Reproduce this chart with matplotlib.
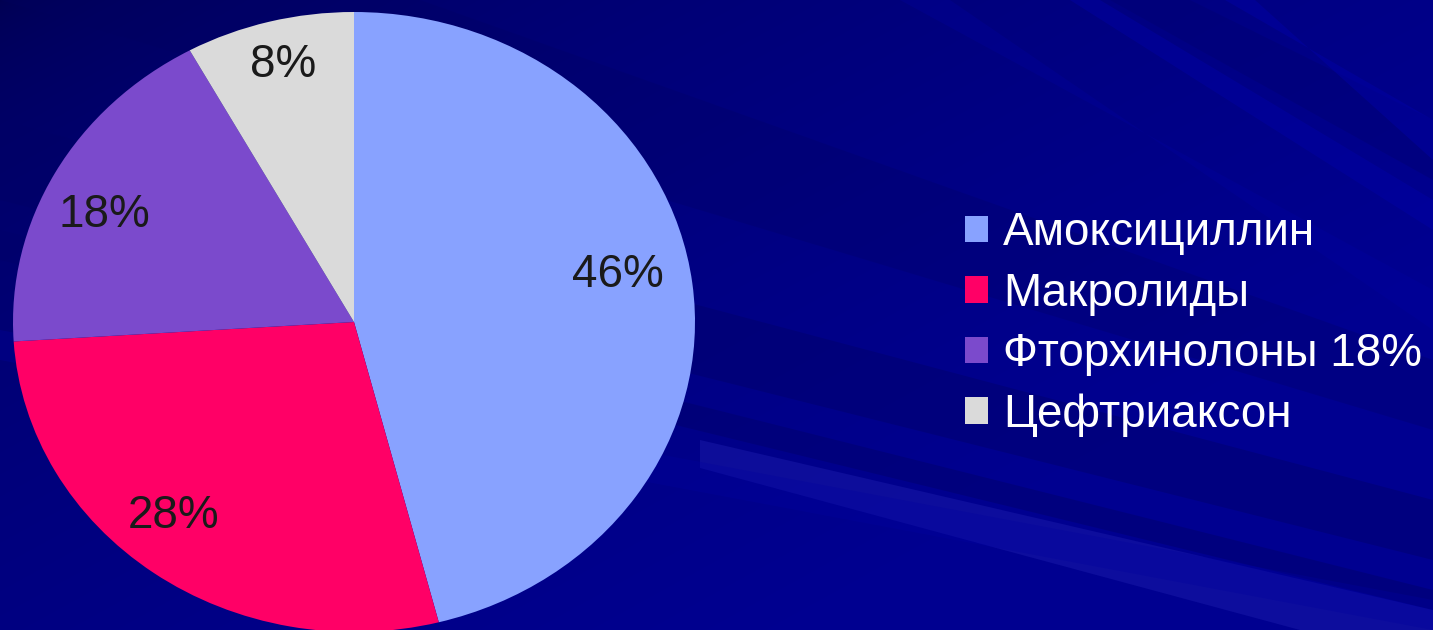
import matplotlib.pyplot as plt
import numpy as np
from matplotlib.patches import Polygon

plt.rcParams['font.family'] = ['Liberation Sans', 'DejaVu Sans']

# antibiotic share, %
drugs = ['Амоксициллин', 'Макролиды', 'Фторхинолоны 18%', 'Цефтриаксон']
shares = [46, 28, 18, 8]
colors = ['#88a2ff', '#ff0066', '#7b4acc', '#dadada']

W, H = 1433, 630
fig = plt.figure(figsize=(W / 100, H / 100), dpi=100)

# background: navy gradient with diagonal streaks
bg = fig.add_axes([0, 0, 1, 1])
bg.set_xlim(0, W)
bg.set_ylim(H, 0)
bg.axis('off')
yy, xx = np.mgrid[0:H, 0:W]
t = np.clip(0.75 * xx / W + 0.6 * yy / H, 0, 1) ** 0.5
c0 = np.array([0x00, 0x00, 0x50]) / 255
c1 = np.array([0x00, 0x00, 0x90]) / 255
grad = c0 + (c1 - c0) * t[..., None]
bg.imshow(grad, extent=[0, W, H, 0], aspect='auto', zorder=0)

streaks = [
    # (polygon corners, colour, alpha)
    ([(0, 0), (420, 0), (1433, 360), (1433, 430)], '#000060', 0.25),
    ([(0, 120), (0, 200), (1433, 560), (1433, 500)], '#000066', 0.4),
    ([(0, 230), (0, 260), (1433, 610), (1433, 590)], '#00006a', 0.45),
    ([(700, 440), (700, 468), (1300, 630), (1433, 630), (1433, 610)], '#1a1aaa', 0.5),
    ([(0, 330), (0, 360), (1433, 630), (1433, 600)], '#0000a0', 0.3),
    ([(900, 0), (950, 0), (1433, 330), (1433, 290)], '#0000a6', 0.25),
    ([(1070, 0), (1100, 0), (1433, 200), (1433, 230)], '#0000aa', 0.4),
    ([(1110, 0), (1190, 0), (1433, 120), (1433, 180)], '#000070', 0.4),
    ([(1225, 0), (1255, 0), (1433, 160), (1433, 120)], '#0000a8', 0.45),
]
for pts, col, a in streaks:
    bg.add_patch(Polygon(pts, closed=True, facecolor=col, edgecolor='none',
                         alpha=a, zorder=1))

# pie, slightly squashed vertically
ax = fig.add_axes([13 / W, (H - 632) / H, 682 / W, 620 / H])
wedges, texts, autotexts = ax.pie(
    shares, colors=colors, startangle=90, counterclock=False,
    autopct=lambda p: f'{p:.0f}%', pctdistance=0.8,
    wedgeprops={'linewidth': 0},
    textprops={'fontsize': 33, 'color': '#1a1a1a'})
ax.set_aspect('auto')
ax.set_xlim(-1, 1)
ax.set_ylim(-1, 1)
ax.axis('off')

# nudge the percentage labels a little (axes units)
nudges = [(-0.02, 0.05), (-0.06, 0.02), (-0.03, -0.04), (-0.01, 0.055)]
for txt, (dx, dy) in zip(autotexts, nudges):
    x, y = txt.get_position()
    txt.set_position((x + dx, y + dy))

fig.legend(wedges, drugs, loc='center left',
           bbox_to_anchor=(965 / W, 1 - 324 / H),
           frameon=False, fontsize=33, labelcolor='white',
           handlelength=0.5, handleheight=0.5, handletextpad=0.33,
           labelspacing=0.36, borderpad=0, borderaxespad=0)

fig.savefig('out.png', dpi=100)
